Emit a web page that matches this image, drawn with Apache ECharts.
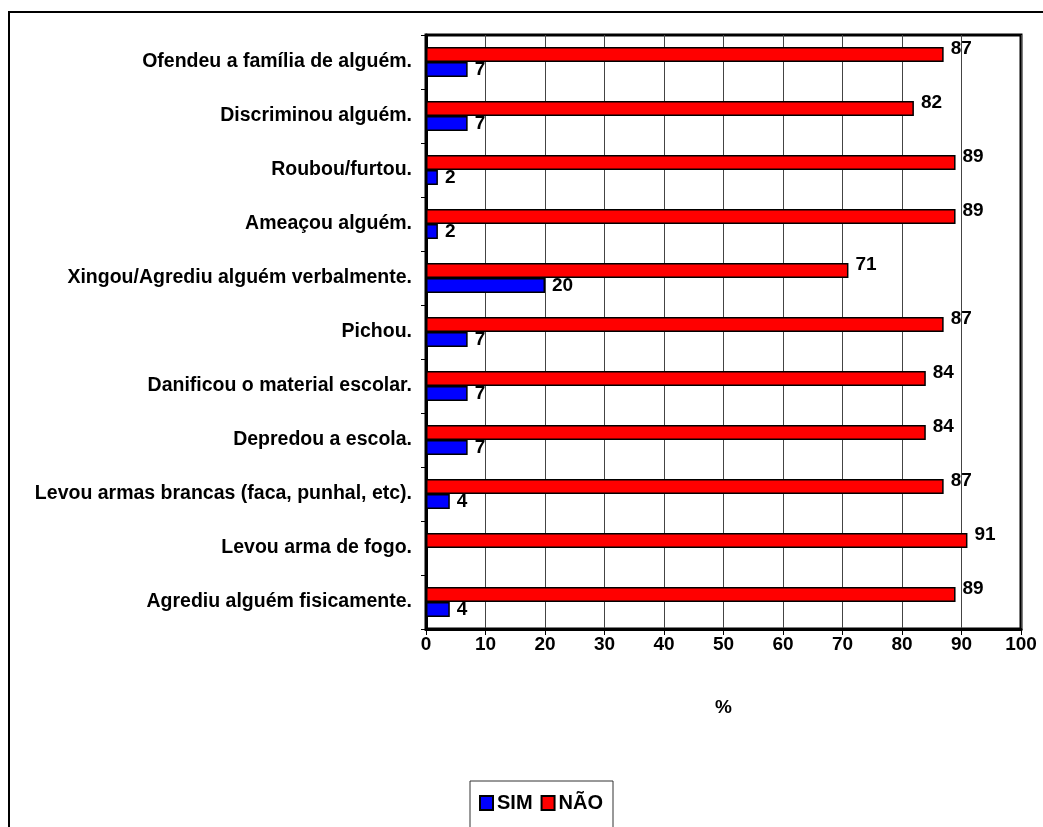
<!DOCTYPE html>
<html>
<head>
<meta charset="utf-8">
<title>Comportamentos</title>
<script src="https://cdn.jsdelivr.net/npm/echarts@6/dist/echarts.min.js"></script>
<style>
  html, body { margin: 0; padding: 0; background: #fff; }
  #chart { width: 1043px; height: 827px; }
</style>
</head>
<body>
<div id="chart"></div>
<script>
// Categories listed top to bottom
const categories = [
  'Ofendeu a família de alguém.',
  'Discriminou alguém.',
  'Roubou/furtou.',
  'Ameaçou alguém.',
  'Xingou/Agrediu alguém verbalmente.',
  'Pichou.',
  'Danificou o material escolar.',
  'Depredou a escola.',
  'Levou armas brancas (faca, punhal, etc).',
  'Levou arma de fogo.',
  'Agrediu alguém fisicamente.'
];
// Percentages per category (same order)
const simValues = [7, 7, 2, 2, 20, 7, 7, 7, 4, null, 4];
const naoValues = [87, 82, 89, 89, 71, 87, 84, 84, 87, 91, 89];
const xTicks = [0, 10, 20, 30, 40, 50, 60, 70, 80, 90, 100];

const FONT = '"Liberation Sans", Arial, sans-serif';

const chart = echarts.init(document.getElementById('chart'), null, { renderer: 'canvas' });

const labelStyle = {
  show: true,
  position: 'right',
  distance: 7,
  fontFamily: FONT,
  fontWeight: 'bold',
  fontSize: 19,
  color: '#000'
};

chart.setOption({
  animation: false,
  backgroundColor: '#fff',
  graphic: [{
    type: 'rect',
    shape: { x: 9, y: 12, width: 1200, height: 1000 },
    style: { fill: 'none', stroke: '#000', lineWidth: 2 },
    z: -10
  }],
  grid: {
    left: 426, top: 35, right: 22, bottom: 198,
    show: true,
    borderColor: '#000',
    borderWidth: 3,
    backgroundColor: 'transparent'
  },
  legend: {
    data: ['SIM', 'NÃO'],
    left: 470,
    top: 781,
    padding: [12, 10, 20, 9],
    itemGap: 8,
    itemWidth: 13,
    itemHeight: 14,
    borderColor: '#333',
    borderWidth: 1,
    textStyle: { fontFamily: FONT, fontWeight: 'bold', fontSize: 20, color: '#000', padding: [0, 0, 0, -1] },
    icon: 'rect'
  },
  xAxis: {
    type: 'value',
    min: xTicks[0],
    max: xTicks[xTicks.length - 1],
    interval: 10,
    name: '%',
    nameLocation: 'middle',
    nameGap: 69,
    nameTextStyle: { fontFamily: FONT, fontWeight: 'bold', fontSize: 19, color: '#000' },
    axisLine: { show: true, lineStyle: { color: '#000', width: 3 } },
    axisTick: { show: true, length: 6, lineStyle: { color: '#000', width: 1 } },
    axisLabel: {
      margin: 6,
      fontFamily: FONT, fontWeight: 'bold', fontSize: 19, color: '#000',
      formatter: v => String(v)
    },
    splitLine: { show: true, lineStyle: { color: '#444', width: 1 } }
  },
  yAxis: {
    type: 'category',
    data: categories,
    inverse: true,
    axisLine: { show: true, lineStyle: { color: '#000', width: 3 } },
    axisTick: { show: true, length: 5, lineStyle: { color: '#000', width: 1 } },
    axisLabel: {
      margin: 14,
      fontFamily: FONT, fontWeight: 'bold', fontSize: 19.5, color: '#000'
    },
    splitLine: { show: false }
  },
  series: [
    {
      name: 'NÃO',
      type: 'bar',
      data: naoValues,
      barWidth: 15,
      barGap: '0%',
      itemStyle: { color: '#FF0000', borderColor: '#000', borderWidth: 1.5 },
      label: Object.assign({}, labelStyle, { offset: [0, -6] })
    },
    {
      name: 'SIM',
      type: 'bar',
      data: simValues,
      barWidth: 15,
      barGap: '0%',
      itemStyle: { color: '#0000FF', borderColor: '#000', borderWidth: 1.5 },
      label: Object.assign({}, labelStyle, { offset: [0, 0] })
    }
  ]
});
</script>
</body>
</html>
